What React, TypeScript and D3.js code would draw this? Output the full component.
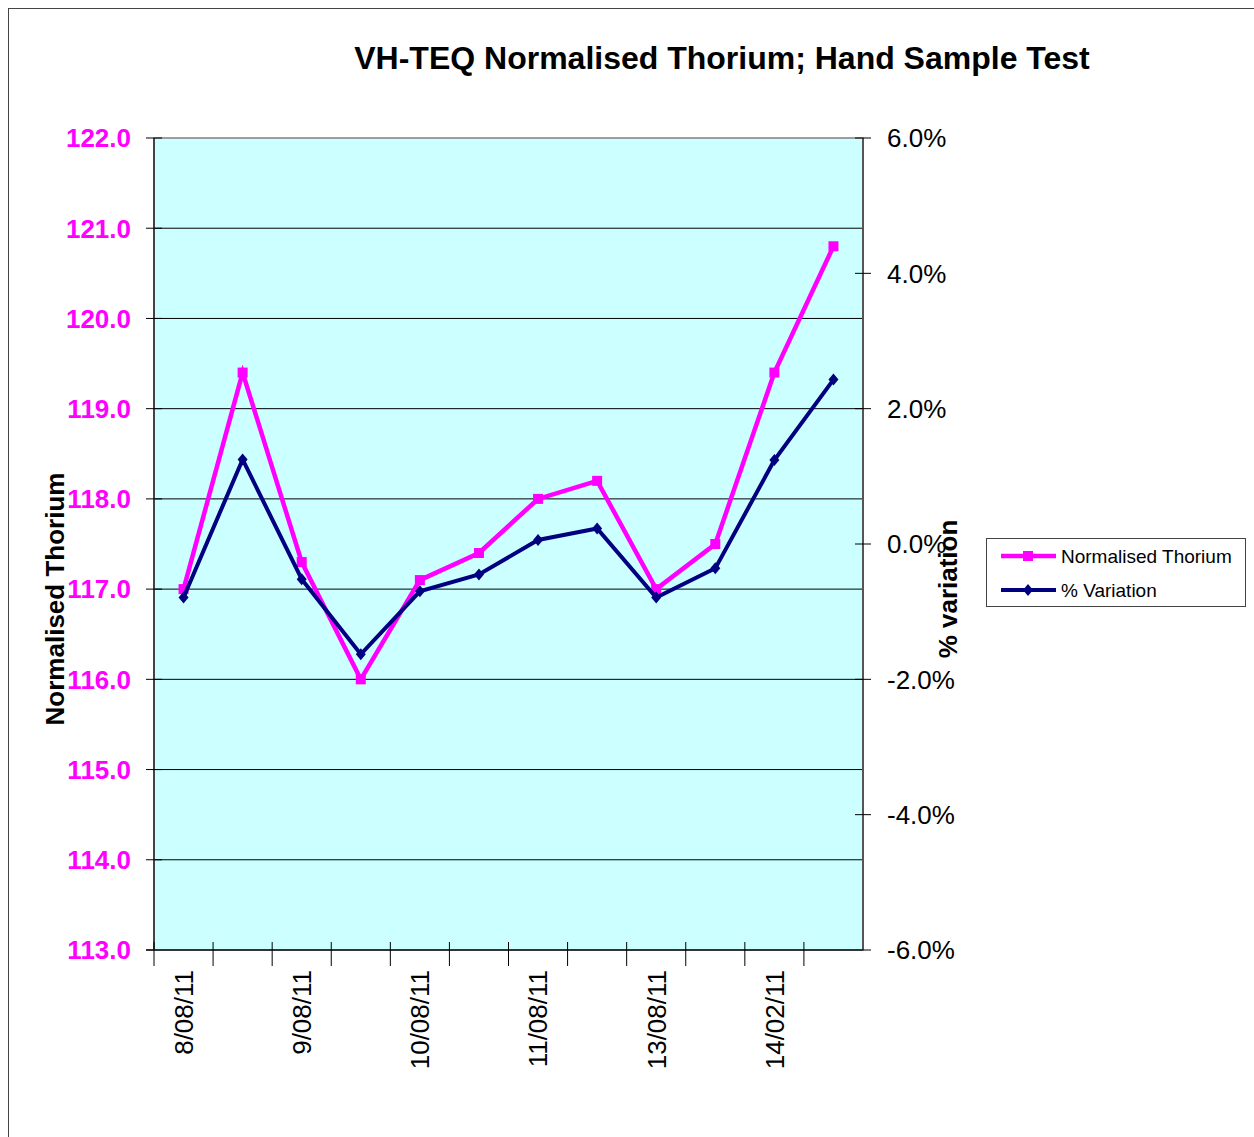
import React from "react";
import * as d3 from "d3";

// every second date label is hidden on the axis, as in the original sheet
const dateLabels = ["8/08/11", "", "9/08/11", "", "10/08/11", "", "11/08/11", "", "13/08/11", "", "14/02/11", ""];
const thorium = [117.0, 119.4, 117.3, 116.0, 117.1, 117.4, 118.0, 118.2, 117.0, 117.5, 119.4, 120.8];
const variation = [-0.79, 1.25, -0.52, -1.63, -0.7, -0.45, 0.06, 0.23, -0.79, -0.36, 1.24, 2.43];
const leftTicks = [113, 114, 115, 116, 117, 118, 119, 120, 121, 122];
const rightTicks = [-6, -4, -2, 0, 2, 4, 6];

const FONT = "'Liberation Sans', Arial, sans-serif";
const PINK = "#FF00FF";
const NAVY = "#000080";

const App = () => {
  const left = 154, right = 863, top = 138, bottom = 950;

  const x = d3.scaleBand<number>().domain(d3.range(dateLabels.length)).range([left, right]);
  const yL = d3.scaleLinear().domain([113, 122]).range([bottom, top]);
  const yR = d3.scaleLinear().domain([-6, 6]).range([bottom, top]);
  const cx = (i: number) => (x(i) as number) + x.bandwidth() / 2;

  const thLine = d3.line<number>().x((d, i) => cx(i)).y((d) => yL(d));
  const varLine = d3.line<number>().x((d, i) => cx(i)).y((d) => yR(d));

  // category boundaries for the bottom tick marks
  const bounds = d3.range(dateLabels.length).map((i) => x(i) as number);

  return (
    <svg width={1254} height={1137} style={{ position: "absolute", left: 0, top: 0, background: "#fff" }}>
      <rect x={8.5} y={8.5} width={1260} height={1140} fill="#fff" stroke="#444" strokeWidth={1} />

      <text x={722} y={69} textAnchor="middle" fontFamily={FONT} fontWeight="bold" fontSize={32} fill="#000">
        VH-TEQ Normalised Thorium; Hand Sample Test
      </text>

      {/* plot area */}
      <rect x={left} y={top} width={right - left} height={bottom - top} fill="#CCFFFF" stroke="#808080" strokeWidth={1.5} />

      {leftTicks.slice(1, -1).map((t) => (
        <line key={"g" + t} x1={left} x2={right} y1={yL(t)} y2={yL(t)} stroke="#000" strokeWidth={1} />
      ))}

      {/* left axis */}
      <line x1={left} x2={left} y1={top} y2={bottom} stroke="#444" strokeWidth={2} />
      {leftTicks.map((t) => (
        <g key={"l" + t}>
          <line x1={left - 8} x2={left + 8} y1={yL(t)} y2={yL(t)} stroke="#000" strokeWidth={1} />
          <text x={131} y={yL(t)} dy="0.36em" textAnchor="end" fontFamily={FONT} fontWeight="bold" fontSize={26} fill={PINK}>
            {t.toFixed(1)}
          </text>
        </g>
      ))}

      {/* right axis */}
      <line x1={right} x2={right} y1={top} y2={bottom} stroke="#555" strokeWidth={2} />
      {rightTicks.map((t) => (
        <g key={"r" + t}>
          <line x1={right - 8} x2={right + 8} y1={yR(t)} y2={yR(t)} stroke="#000" strokeWidth={1} />
          <text x={887} y={yR(t)} dy="0.36em" textAnchor="start" fontFamily={FONT} fontSize={26} fill="#000">
            {t.toFixed(1) + "%"}
          </text>
        </g>
      ))}

      {/* bottom axis */}
      <line x1={left - 8} x2={right} y1={bottom} y2={bottom} stroke="#333" strokeWidth={2} />
      {bounds.map((b, i) => (
        <line key={"b" + i} x1={b} x2={b} y1={bottom - 8} y2={bottom + 16} stroke="#000" strokeWidth={1} />
      ))}
      {dateLabels.map((d, i) =>
        d ? (
          <text
            key={"d" + i}
            transform={`translate(${cx(i)},970) rotate(-90)`}
            dy="0.36em"
            textAnchor="end"
            fontFamily={FONT}
            fontSize={26}
            fill="#000"
          >
            {d}
          </text>
        ) : null
      )}

      {/* axis titles */}
      <text transform="translate(55,599) rotate(-90)" dy="0.36em" textAnchor="middle" fontFamily={FONT} fontWeight="bold" fontSize={26} fill="#000">
        Normalised Thorium
      </text>
      <text transform="translate(948,589) rotate(-90)" dy="0.36em" textAnchor="middle" fontFamily={FONT} fontWeight="bold" fontSize={26} fill="#000">
        % variation
      </text>

      {/* series */}
      <path d={thLine(thorium) as string} fill="none" stroke={PINK} strokeWidth={4.5} strokeLinejoin="miter" />
      {thorium.map((v, i) => (
        <rect key={"tm" + i} x={cx(i) - 5} y={yL(v) - 5} width={10} height={10} fill={PINK} />
      ))}
      <path d={varLine(variation) as string} fill="none" stroke={NAVY} strokeWidth={4} strokeLinejoin="miter" />
      {variation.map((v, i) => (
        <path key={"vm" + i} d={`M${cx(i)},${yR(v) - 6}l5,6l-5,6l-5,-6z`} fill={NAVY} />
      ))}

      {/* legend */}
      <rect x={986.5} y={538.5} width={259} height={68} fill="#fff" stroke="#444" strokeWidth={1} />
      <line x1={1001} x2={1056} y1={556} y2={556} stroke={PINK} strokeWidth={4.5} />
      <rect x={1023} y={551} width={10} height={10} fill={PINK} />
      <text x={1061} y={556} dy="0.36em" fontFamily={FONT} fontSize={19} fill="#000">Normalised Thorium</text>
      <line x1={1001} x2={1056} y1={590} y2={590} stroke={NAVY} strokeWidth={4} />
      <path d="M1028,584l5,6l-5,6l-5,-6z" fill={NAVY} />
      <text x={1061} y={590} dy="0.36em" fontFamily={FONT} fontSize={19} fill="#000">% Variation</text>
    </svg>
  );
};

export default App;
